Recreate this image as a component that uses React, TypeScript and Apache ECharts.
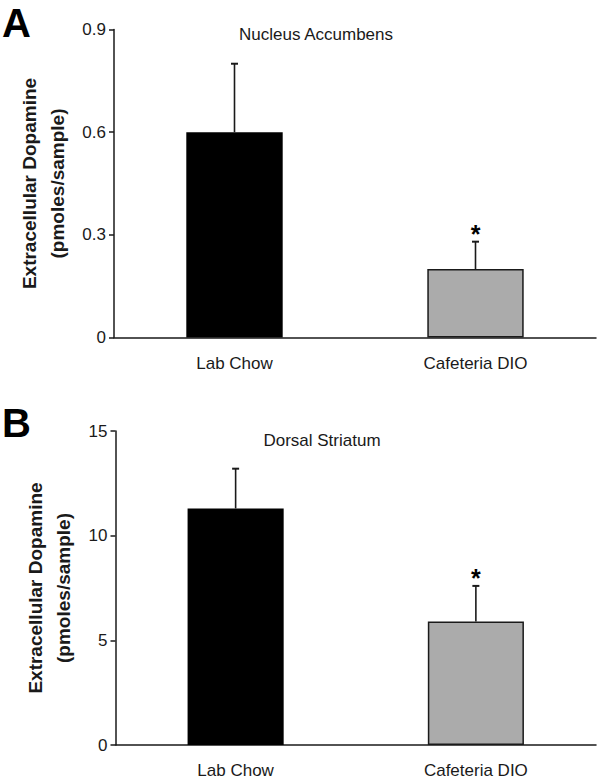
import React, { useEffect, useRef } from "react";
import * as echarts from "echarts";

const categories = ["Lab Chow", "Cafeteria DIO"];
const accumbensMeans = [0.6, 0.2];
const accumbensErrors = [0.2, 0.08];
const striatumMeans = [11.3, 5.9];
const striatumErrors = [1.9, 1.7];
const significant = [false, true];
const barColors = ["#000000", "#ababab"];
const panelTitles = ["Nucleus Accumbens", "Dorsal Striatum"];
const panelLetters = ["A", "B"];
const yAxisName = "Extracellular Dopamine\n(pmoles/sample)";

const FONT = "'Liberation Sans', Arial, Helvetica, sans-serif";
const INK = "#1a1a1a";

function barData(values: number[]) {
  return categories.map((c, i) => ({
    value: values[i],
    itemStyle: {
      color: barColors[i],
      borderColor: INK,
      borderWidth: i === 0 ? 0 : 1.5,
    },
  }));
}

function errorSeries(gridIdx: number, means: number[], errs: number[]) {
  return {
    type: "custom",
    xAxisIndex: gridIdx,
    yAxisIndex: gridIdx,
    z: 5,
    data: means.map((m, i) => [i, m, m + errs[i], significant[i] ? 1 : 0]),
    renderItem: (params: any, api: any) => {
      const idx = api.value(0);
      const base = api.coord([idx, api.value(1)]);
      const top = api.coord([idx, api.value(2)]);
      const children: any[] = [
        {
          type: "line",
          shape: { x1: base[0], y1: base[1], x2: top[0], y2: top[1] },
          style: { stroke: INK, lineWidth: 1.6 },
        },
        {
          type: "line",
          shape: { x1: top[0] - 3.5, y1: top[1], x2: top[0] + 3.5, y2: top[1] },
          style: { stroke: INK, lineWidth: 2 },
        },
      ];
      if (api.value(3) === 1) {
        children.push({
          type: "text",
          x: top[0],
          y: top[1] - 8,
          style: {
            text: "*",
            fill: "#000",
            font: `bold 25px ${FONT}`,
            textAlign: "center",
            textVerticalAlign: "middle",
          },
        });
      }
      return { type: "group", children };
    },
  };
}

function makeYAxis(gridIdx: number, max: number, interval: number) {
  return {
    type: "value",
    gridIndex: gridIdx,
    min: 0,
    max,
    interval,
    splitLine: { show: false },
    axisLine: { show: true, lineStyle: { color: INK, width: 1.5 } },
    axisTick: { show: true, length: 5, lineStyle: { color: INK, width: 1.5 } },
    axisLabel: { fontSize: 17, color: INK, fontFamily: FONT, margin: 8 },
    name: yAxisName,
    nameLocation: "middle",
    nameRotate: 90,
    nameGap: 38,
    nameTextStyle: {
      fontSize: 19,
      fontWeight: "bold",
      color: INK,
      fontFamily: FONT,
      lineHeight: 28,
      align: "center",
    },
  };
}

function makeXAxis(gridIdx: number) {
  return {
    type: "category",
    gridIndex: gridIdx,
    data: categories,
    axisLine: { show: true, lineStyle: { color: INK, width: 1.5 } },
    axisTick: { show: false },
    axisLabel: { fontSize: 17, color: INK, fontFamily: FONT, margin: 17 },
  };
}

export default function App() {
  const ref = useRef<HTMLDivElement>(null);
  useEffect(() => {
    if (!ref.current) return;
    const chart = echarts.init(ref.current, undefined, { renderer: "svg" });
    chart.setOption({
      animation: false,
      backgroundColor: "#ffffff",
      grid: [
        { left: 114, right: 4, top: 29.5, height: 308 },
        { left: 115.5, right: 4, top: 431, height: 314 },
      ],
      xAxis: [makeXAxis(0), makeXAxis(1)],
      yAxis: [makeYAxis(0, 0.9, 0.3), makeYAxis(1, 15, 5)],
      series: [
        { type: "bar", xAxisIndex: 0, yAxisIndex: 0, barWidth: "40%", data: barData(accumbensMeans) },
        errorSeries(0, accumbensMeans, accumbensErrors),
        { type: "bar", xAxisIndex: 1, yAxisIndex: 1, barWidth: "40%", data: barData(striatumMeans) },
        errorSeries(1, striatumMeans, striatumErrors),
      ],
      graphic: [
        {
          type: "text",
          x: 2,
          y: 23,
          style: {
            text: panelLetters[0],
            font: `bold 40px ${FONT}`,
            fill: "#000",
            textVerticalAlign: "middle",
          },
        },
        {
          type: "text",
          x: 2,
          y: 423,
          style: {
            text: panelLetters[1],
            font: `bold 40px ${FONT}`,
            fill: "#000",
            textVerticalAlign: "middle",
          },
        },
        {
          type: "text",
          x: 316,
          y: 34,
          style: {
            text: panelTitles[0],
            font: `17px ${FONT}`,
            fill: INK,
            textAlign: "center",
            textVerticalAlign: "middle",
          },
        },
        {
          type: "text",
          x: 322,
          y: 440,
          style: {
            text: panelTitles[1],
            font: `17px ${FONT}`,
            fill: INK,
            textAlign: "center",
            textVerticalAlign: "middle",
          },
        },
      ],
    });
    return () => chart.dispose();
  }, []);
  return (
    <div
      ref={ref}
      style={{ position: "absolute", left: 0, top: 0, width: 600, height: 782 }}
    />
  );
}
